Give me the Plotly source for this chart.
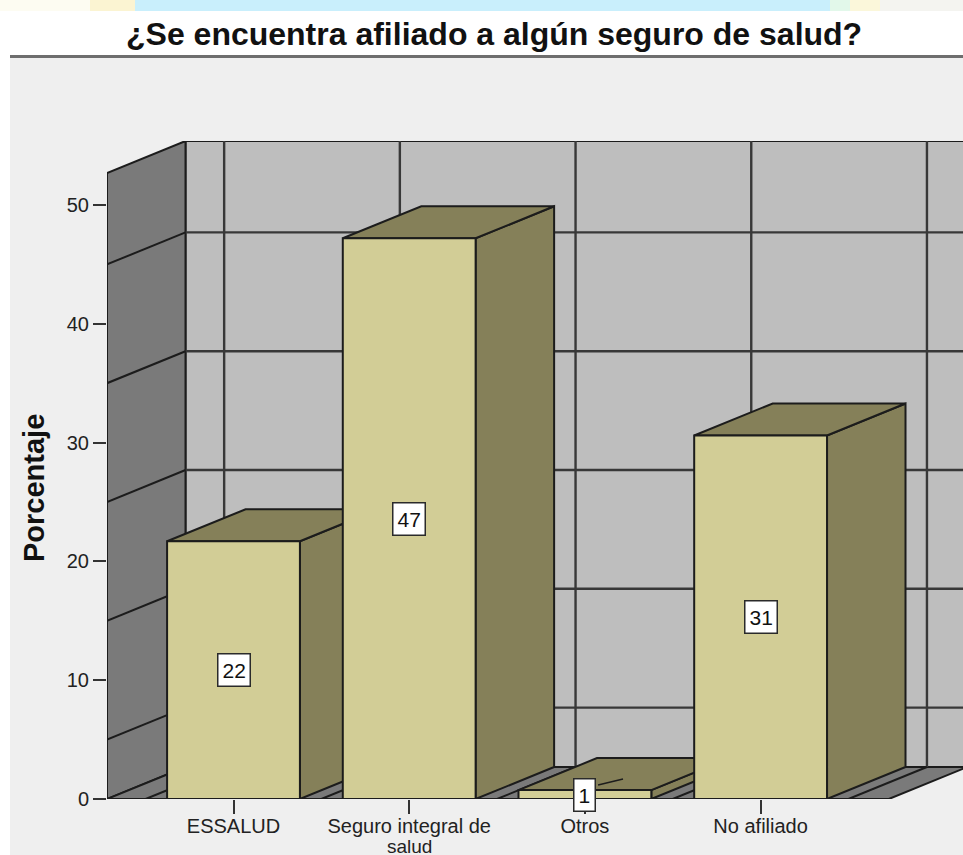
import plotly.graph_objects as go

# ---- data ----
title_text = "¿Se encuentra afiliado a algún seguro de salud?"
y_title = "Porcentaje"
categories = ["ESSALUD", "Seguro integral de", "Otros", "No afiliado"]
category_extra_line = ["", "salud", "", ""]
values = [21.7, 47.2, 0.75, 30.6]
value_labels = ["22", "47", "1", "31"]
y_ticks = [0, 10, 20, 30, 40, 50]
wall_grid = [5, 15, 25, 35, 45]

# ---- geometry, in axis units ----
W, H = 963, 855
M_L, M_R, M_T, M_B = 107, 0, 141, 56
PX_X = 175.7
PX_Y = 11.88
X0 = -0.72
X_END = (W - 233.5) / PX_X
Y_TOP = (H - M_B - M_T) / PX_Y
DX = 78.5 / PX_X
DY = 32 / PX_Y
HALF = 0.378
FLOOR_R = 3.73
WALL_TOP = Y_TOP - DY

# ---- styles ----
INK = "#1c1c1c"
GRID = "#383838"
FRONT = "#d2cd96"
SHADE = "#858059"
BACK = "#bebebe"
SIDEWALL = "#7a7a7a"
PANEL = "#efefef"
FONT = "Liberation Sans"

fig = go.Figure()


def poly(xs, ys, fill, lw=2, color=INK):
    fig.add_trace(go.Scatter(x=xs, y=ys, mode="lines", fill="toself", fillcolor=fill,
                             line=dict(color=color, width=lw), hoverinfo="skip",
                             showlegend=False, cliponaxis=False))


def seg(xs, ys, lw=2.4, color=GRID):
    fig.add_trace(go.Scatter(x=xs, y=ys, mode="lines", line=dict(color=color, width=lw),
                             hoverinfo="skip", showlegend=False, cliponaxis=False))


# walls and floor
poly([X0 + DX, FLOOR_R + DX, FLOOR_R + DX, X0 + DX, X0 + DX],
     [DY, DY, WALL_TOP + DY, WALL_TOP + DY, DY], BACK)
poly([X0, X0 + DX, X0 + DX, X0, X0], [0, DY, WALL_TOP + DY, WALL_TOP, 0], SIDEWALL)
poly([X0, FLOOR_R, FLOOR_R + DX, X0 + DX, X0], [0, 0, DY, DY, 0], SIDEWALL)

# grid on back wall, side wall and floor
for g in wall_grid:
    seg([X0 + DX, FLOOR_R + DX], [g + DY, g + DY])
    seg([X0, X0 + DX], [g, g + DY], color=INK, lw=2)
for i in range(len(categories) + 1):
    b = i - 0.5
    seg([b + DX, b + DX], [DY, WALL_TOP + DY])
    seg([b, b + DX], [0, DY], color=INK, lw=2)

# bars, left to right
for i, v in enumerate(values):
    l, r = i - HALF, i + HALF
    poly([r, r + DX, r + DX, r, r], [0, DY, v + DY, v, 0], SHADE)
    poly([l, r, r + DX, l + DX, l], [v, v, v + DY, v + DY, v], SHADE)
    poly([l, r, r, l, l], [0, 0, v, v, 0], FRONT)

# small stray line on the top of the "Otros" bar
seg([2.075, 2.217], [1.18, 1.68], color=INK, lw=1.5)

annotations = []
for i, (v, t) in enumerate(zip(values, value_labels)):
    annotations.append(dict(x=i, y=v / 2, text=t, showarrow=False, bgcolor="white",
                            bordercolor="#2a2a2a", borderwidth=1.5, borderpad=4,
                            font=dict(family=FONT, size=21, color="#111")))
for i, t in enumerate(category_extra_line):
    if t:
        annotations.append(dict(x=i, y=0, yshift=-47, text=t, showarrow=False,
                                yanchor="middle",
                                font=dict(family=FONT, size=19, color="#222")))
annotations.append(dict(xref="paper", yref="paper", x=(34 - M_L) / (W - M_L - M_R),
                        y=(H - M_B - 488) / (H - M_B - M_T), text="<b>" + y_title + "</b>",
                        textangle=-90, showarrow=False, xanchor="center", yanchor="middle",
                        font=dict(family=FONT, size=29, color="#111")))
annotations.append(dict(xref="paper", yref="paper", x=(494 - M_L) / (W - M_L - M_R),
                        y=(H - M_B - 34) / (H - M_B - M_T), text="<b>" + title_text + "</b>",
                        showarrow=False, xanchor="center", yanchor="middle",
                        font=dict(family=FONT, size=32, color="#111")))


def rect(x0, y0, x1, y1, color):
    sx = W - M_L - M_R
    sy = H - M_B - M_T
    return dict(type="rect", xref="paper", yref="paper", layer="below", line_width=0,
                fillcolor=color, x0=(x0 - M_L) / sx, x1=(x1 - M_L) / sx,
                y0=(H - M_B - y1) / sy, y1=(H - M_B - y0) / sy)


shapes = [
    rect(10, 57, W, H, PANEL),
    rect(0, 0, 90, 11, "#fdfcf2"),
    rect(90, 0, 135, 11, "#fbf4d2"),
    rect(135, 0, 830, 11, "#c9effc"),
    rect(830, 0, 850, 11, "#e2f8ea"),
    rect(850, 0, 880, 11, "#fbf7da"),
    rect(880, 0, W, 11, "#f4f4f0"),
    rect(10, 55, W, 58, "#6e6e6e"),
]

fig.update_layout(
    width=W, height=H, margin=dict(l=M_L, r=M_R, t=M_T, b=M_B, pad=0),
    paper_bgcolor="white", plot_bgcolor="rgba(0,0,0,0)", showlegend=False,
    annotations=annotations, shapes=shapes,
    xaxis=dict(range=[X0, X_END], tickmode="array", tickvals=list(range(len(categories))),
               ticktext=categories, ticks="outside", ticklen=14, tickwidth=2, tickcolor="#333",
               showgrid=False, zeroline=False, showline=False, tickangle=0,
               ticklabelstandoff=-5,
               tickfont=dict(family=FONT, size=20, color="#222")),
    yaxis=dict(range=[0, Y_TOP], tickmode="array", tickvals=y_ticks, ticks="outside",
               ticklen=13, tickwidth=2, tickcolor="#333", showgrid=False, zeroline=False,
               showline=False, tickfont=dict(family=FONT, size=20, color="#222")),
)

fig.write_html("out.html", config={"displayModeBar": False},
               post_script="document.body.style.margin='0';document.documentElement.style.overflow='hidden';")
